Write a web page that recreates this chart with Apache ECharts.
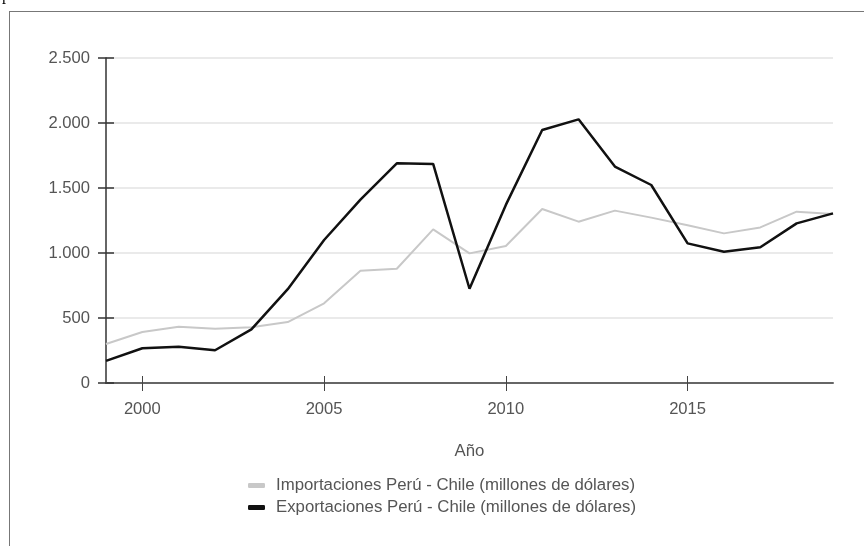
<!DOCTYPE html>
<html>
<head>
<meta charset="utf-8">
<script src="https://cdn.jsdelivr.net/npm/echarts@6/dist/echarts.min.js"></script>
<style>
  html, body { margin: 0; padding: 0; background: #fff; }
  #wrap { position: relative; width: 864px; height: 546px; overflow: hidden; }
  #chart { position: absolute; left: 0; top: 0; width: 864px; height: 546px; }
  #frame { position: absolute; left: 9px; top: 11px; width: 900px; height: 600px;
           border-top: 1px solid #777; border-left: 1px solid #777; pointer-events: none; }
  #cut { position: absolute; left: 2px; top: -14px; font: 16px "Liberation Serif", serif; color: #000; }
</style>
</head>
<body>
<div id="wrap">
  <div id="chart"></div>
  <div id="frame"></div>
  <div id="cut">p</div>
</div>
<script>
const years = [1999,2000,2001,2002,2003,2004,2005,2006,2007,2008,2009,2010,2011,2012,2013,2014,2015,2016,2017,2018,2019];
const importaciones = [300,392,433,418,428,469,613,864,879,1182,997,1054,1338,1241,1326,1272,1213,1151,1197,1318,1300];
const exportaciones = [170,267,279,252,413,722,1100,1410,1690,1685,725,1370,1946,2028,1665,1523,1074,1010,1044,1228,1305];
const nameImp = 'Importaciones Perú - Chile (millones de dólares)';
const nameExp = 'Exportaciones Perú - Chile (millones de dólares)';
const xName = 'Año';

const font = 'Arial, "Liberation Sans", sans-serif';
const chart = echarts.init(document.getElementById('chart'));
const cats = years.map(String);
const show5 = (i, v) => Number(v) % 5 === 0;
const fmt = v => String(v).replace(/\B(?=(\d{3})+(?!\d))/g, '.');

chart.setOption({
  animation: false,
  textStyle: { fontFamily: font },
  grid: { left: 106, right: 31, top: 58, bottom: 163, containLabel: false },
  legend: {
    orient: 'vertical', left: 243, top: 472,
    itemWidth: 17, itemHeight: 5, itemGap: 5,
    icon: 'roundRect',
    textStyle: { fontSize: 16.8, color: '#555', fontFamily: font, padding: [0, 0, 0, 6] },
    data: [nameImp, nameExp]
  },
  xAxis: [{
    type: 'category', data: cats, boundaryGap: false,
    name: xName, nameLocation: 'middle', nameGap: 60,
    nameTextStyle: { fontSize: 16.8, color: '#555', fontFamily: font },
    axisLine: { lineStyle: { color: '#666', width: 2 } },
    axisTick: { interval: show5, length: 8, lineStyle: { color: '#444', width: 1 } },
    axisLabel: { interval: show5, margin: 18, fontSize: 16.6, color: '#555', fontFamily: font },
    splitLine: { show: false }
  }, {
    type: 'category', data: cats, boundaryGap: false, position: 'bottom',
    axisLine: { show: false },
    axisTick: { interval: show5, inside: true, length: 7, lineStyle: { color: '#444', width: 1 } },
    axisLabel: { show: false }, splitLine: { show: false }
  }],
  yAxis: [{
    type: 'value', min: 0, max: 2500, interval: 500,
    axisLine: { show: true, lineStyle: { color: '#333', width: 1.5 } },
    axisTick: { show: true, length: 8, lineStyle: { color: '#333', width: 1.5 } },
    axisLabel: { margin: 16, fontSize: 16.6, color: '#555', fontFamily: font, formatter: fmt },
    splitLine: { lineStyle: { color: '#e3e3e3', width: 1.5 } }
  }, {
    type: 'value', min: 0, max: 2500, interval: 500, position: 'left',
    axisLine: { show: false },
    axisTick: { show: true, inside: true, length: 8, lineStyle: { color: '#333', width: 1.5 } },
    axisLabel: { show: false }, splitLine: { show: false }
  }],
  series: [{
    name: nameImp, type: 'line', data: importaciones,
    symbol: 'none', z: 2,
    lineStyle: { color: '#c8c8c8', width: 2 },
    itemStyle: { color: '#c8c8c8' }
  }, {
    name: nameExp, type: 'line', data: exportaciones,
    symbol: 'none', z: 3,
    lineStyle: { color: '#111', width: 2.5 },
    itemStyle: { color: '#111' }
  }]
});
</script>
</body>
</html>
